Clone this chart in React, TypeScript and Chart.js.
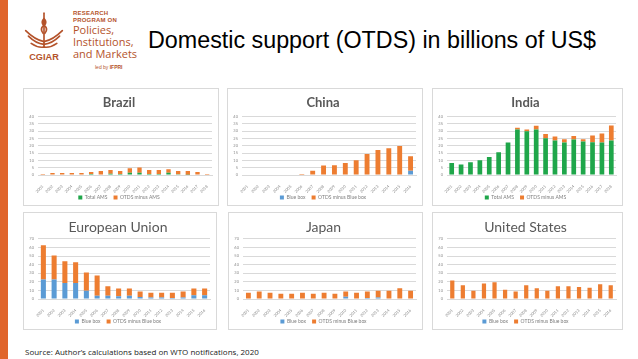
import React, { useEffect, useRef } from 'react';
import { Chart, registerables } from 'chart.js';
Chart.register(...registerables);

// ---------- DATA ----------
const years18 = ['2001','2002','2003','2004','2005','2006','2007','2008','2009','2010','2011','2012','2013','2014','2015','2016','2017','2018'];
const years16 = ['2001','2002','2003','2004','2005','2006','2007','2008','2009','2010','2011','2012','2013','2014','2015','2016'];

const brazilAMS = [0, 0, 0, 0, 0, 0.7, 0.3, 0.9, 0.7, 1.6, 1.6, 0.7, 0.7, 1.6, 0.5, 0.2, 0, 0];
const brazilOther = [0.7, 1.3, 1.3, 1.3, 1.3, 1.3, 2.4, 2.5, 2.0, 3.1, 3.6, 2.7, 2.7, 2.4, 2.2, 2.5, 2.0, 0.7];

const chinaBlue = [0, 0, 0, 0, 0, 0, 0, 0, 0, 0, 0, 0, 0, 0, 0, 2.9];
const chinaOther = [0, 0, 0, 0, 0, 0.7, 2.9, 6.5, 6.7, 8.3, 10.1, 14.4, 17.1, 18.4, 19.8, 9.9];

const indiaAMS = [8.3, 7.2, 8.8, 10.1, 12.4, 15.5, 22.2, 31.2, 29.9, 31.2, 25.2, 23.6, 22.2, 24.3, 22.9, 22.5, 22.2, 23.6];
const indiaOther = [0, 0, 0, 0, 0, 0, 0, 1.2, 1.3, 2.5, 2.9, 2.7, 2.3, 2.4, 1.6, 4.5, 6.3, 10.3];

const euBlue = [22.6, 22.6, 18.7, 18.7, 9.7, 3.9, 3.9, 3.1, 3.9, 2.3, 1.6, 1.6, 1.2, 1.6, 4.3, 4.3];
const euOther = [40.0, 28.0, 25.3, 24.1, 21.0, 23.3, 10.9, 9.0, 8.2, 6.3, 5.8, 5.8, 6.2, 7.0, 7.8, 7.8];

const japanBlue = [0, 0, 0, 0, 0, 0, 0, 0, 0, 2.7, 0.5, 1.2, 1.6, 0, 0.5, 0];
const japanOther = [7.4, 8.6, 7.4, 6.2, 6.2, 7.4, 6.2, 7.4, 6.2, 5.9, 6.9, 7.4, 8.1, 9.7, 11.9, 9.7];

const usBlue = [0, 0, 0, 0, 0, 0, 0, 0, 0, 0, 0, 0, 0, 0, 0, 0];
const usOther = [21.4, 15.9, 9.7, 17.9, 19.5, 10.9, 8.6, 15.9, 12.4, 9.7, 14.8, 14.8, 14.0, 13.2, 17.1, 15.9];

const topTicks = { max: 40, step: 5 };
const bottomTicks = { max: 70, step: 10 };

const GREEN = '#1fa64a';
const BLUE = '#5b9bd5';
const ORANGE = '#ed7d31';

type PanelDef = {
  title: string; labels: string[]; a: number[]; b: number[]; aLabel: string; bLabel: string;
  aColor: string; scale: { max: number; step: number }; x: number; y: number; w: number; h: number; bold: boolean; bw: number;
};

const panels: PanelDef[] = [
  { title: 'Brazil', labels: years18, a: brazilAMS, b: brazilOther, aLabel: 'Total AMS', bLabel: 'OTDS minus AMS', aColor: GREEN, scale: topTicks, x: 23, y: 88, w: 196, h: 118, bold: true, bw: 0.45 },
  { title: 'China', labels: years16, a: chinaBlue, b: chinaOther, aLabel: 'Blue box', bLabel: 'OTDS minus Blue box', aColor: BLUE, scale: topTicks, x: 227, y: 88, w: 196, h: 118, bold: true, bw: 0.45 },
  { title: 'India', labels: years18, a: indiaAMS, b: indiaOther, aLabel: 'Total AMS', bLabel: 'OTDS minus AMS', aColor: GREEN, scale: topTicks, x: 432, y: 88, w: 191, h: 118, bold: true, bw: 0.5 },
  { title: 'European Union', labels: years16, a: euBlue, b: euOther, aLabel: 'Blue box', bLabel: 'OTDS minus Blue box', aColor: BLUE, scale: bottomTicks, x: 23, y: 212, w: 194, h: 118, bold: false, bw: 0.47 },
  { title: 'Japan', labels: years16, a: japanBlue, b: japanOther, aLabel: 'Blue box', bLabel: 'OTDS minus Blue box', aColor: BLUE, scale: bottomTicks, x: 228, y: 212, w: 195, h: 118, bold: false, bw: 0.45 },
  { title: 'United States', labels: years16, a: usBlue, b: usOther, aLabel: 'Blue box', bLabel: 'OTDS minus Blue box', aColor: BLUE, scale: bottomTicks, x: 432, y: 212, w: 191, h: 118, bold: false, bw: 0.4 },
];

function Panel({ p }: { p: PanelDef }) {
  const ref = useRef<HTMLCanvasElement | null>(null);
  useEffect(() => {
    if (!ref.current) return;
    const chart = new Chart(ref.current, {
      type: 'bar',
      data: {
        labels: p.labels,
        datasets: [
          { label: p.aLabel, data: p.a, backgroundColor: p.aColor, categoryPercentage: 1, barPercentage: p.bw },
          { label: p.bLabel, data: p.b, backgroundColor: ORANGE, categoryPercentage: 1, barPercentage: p.bw },
        ],
      },
      options: {
        responsive: false,
        animation: false,
        layout: { padding: { left: 2, right: 6, top: 2, bottom: -5 } },
        plugins: {
          title: {
            display: true, text: p.title, color: '#595959',
            font: { family: 'Lato', size: p.bold ? 13 : 14, weight: p.bold ? 'bold' : 'normal' },
            padding: { top: 4, bottom: p.bold ? 6 : 3 },
          },
          legend: {
            position: 'bottom',
            labels: {
              boxWidth: 4, boxHeight: 4, padding: 1, color: '#7f7f7f', font: { family: 'Lato', size: 5 },
              generateLabels: (c: any) => {
                const items = Chart.defaults.plugins.legend.labels.generateLabels(c);
                return items.map((it: any, i: number) => ({ ...it, text: i === 0 ? it.text + '    ' : it.text }));
              },
            },
          },
          tooltip: { enabled: false },
        },
        scales: {
          x: {
            stacked: true,
            grid: { display: false },
            border: { color: '#d9d9d9' },
            ticks: { minRotation: 45, maxRotation: 45, autoSkip: false, color: '#8c8c8c', font: { family: 'Lato', size: 4 }, padding: 1 },
            afterFit: (s: any) => { s.height = 19; },
          },
          y: {
            stacked: true, min: 0, max: p.scale.max,
            grid: { color: '#d9d9d9', drawTicks: false },
            border: { display: false },
            ticks: { stepSize: p.scale.step, autoSkip: false, color: '#8c8c8c', font: { family: 'Lato', size: 4 }, padding: 4 },
            afterFit: (s: any) => { s.width = 12; },
          },
        },
      },
    });
    return () => chart.destroy();
  }, [p]);
  return (
    <div style={{ position: 'absolute', left: p.x, top: p.y, width: p.w, height: p.h, border: '1px solid #d9d9d9', boxSizing: 'border-box', background: '#fff' }}>
      <canvas ref={ref} width={p.w - 2} height={p.h - 2} style={{ display: 'block' }} />
    </div>
  );
}

function Logo() {
  const c = '#b4532b';
  return (
    <div style={{ position: 'absolute', left: 22, top: 8, width: 120, height: 68 }}>
      <svg width="44" height="58" viewBox="0 0 48 58" style={{ position: 'absolute', left: 0, top: 0 }}>
        <g stroke={c} fill="none" strokeWidth="1.8" strokeLinecap="round">
          <path d="M24 3 L24 40" />
          <path d="M24 9 q-4 4 0 8 q4 -4 0 -8" fill={c} />
          <path d="M24 16 q-5 4 -1 9" />
          <path d="M24 16 q5 4 1 9" />
          <path d="M4 22 q10 10 20 12" />
          <path d="M44 22 q-10 10 -20 12" />
          <path d="M7 28 q8 8 17 9" />
          <path d="M41 28 q-8 8 -17 9" />
          <path d="M10 36 q7 5 14 4" />
          <path d="M38 36 q-7 5 -14 4" />
        </g>
        <text x="24" y="54" textAnchor="middle" fill={c} style={{ font: 'bold 10px "Liberation Sans", Arial, sans-serif' }}>CGIAR</text>
      </svg>
      <div style={{ position: 'absolute', left: 51, top: 2, color: c, font: 'bold 6px "Liberation Sans", Arial, sans-serif', lineHeight: '7px', letterSpacing: '0.2px' }}>RESEARCH<br />PROGRAM ON</div>
      <div style={{ position: 'absolute', left: 51, top: 16, color: c, font: '11px "Open Sans", sans-serif', lineHeight: '12px' }}>Policies,<br />Institutions,<br />and Markets</div>
      <div style={{ position: 'absolute', left: 73, top: 56, color: c, font: '5px "Liberation Sans", Arial, sans-serif' }}>led by <b>IFPRI</b></div>
    </div>
  );
}

export default function App() {
  return (
    <div style={{ position: 'fixed', left: 0, top: 0, width: 638, height: 359, background: '#fff', overflow: 'hidden' }}>
      <div style={{ position: 'absolute', left: 0, top: 0, width: 8, height: 359, background: '#e0652b' }} />
      <Logo />
      <div style={{ position: 'absolute', left: 148, top: 27, color: '#000', font: '23.3px "Liberation Sans", Arial, sans-serif', whiteSpace: 'nowrap' }}>
        Domestic support (OTDS) in billions of US$
      </div>
      {panels.map((p) => <Panel key={p.title} p={p} />)}
      <div style={{ position: 'absolute', left: 25, top: 346, color: '#222', font: '8px "Open Sans", sans-serif', whiteSpace: 'nowrap' }}>
        Source: Author’s calculations based on WTO notifications, 2020
      </div>
    </div>
  );
}
